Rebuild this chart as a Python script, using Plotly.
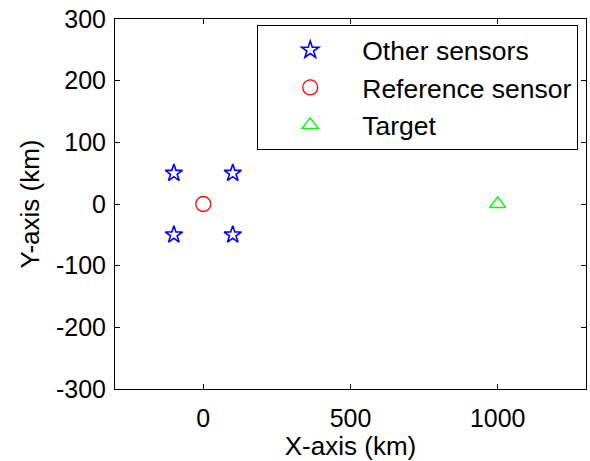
import plotly.graph_objects as go

other_x = [-100, 100, -100, 100]
other_y = [50, 50, -50, -50]
ref_x = [0]
ref_y = [0]
target_x = [1000]
target_y = [0]
x_ticks = [0, 500, 1000]
y_ticks = [-300, -200, -100, 0, 100, 200, 300]

FONT = "Liberation Sans, Arial, sans-serif"

fig = go.Figure()
fig.add_trace(go.Scatter(x=other_x, y=other_y, mode="markers", name="Other sensors",
                         legendgroup="a",
                         marker=dict(symbol="star-open", size=13, color="blue", line=dict(width=1.6, color="blue"))))
fig.add_trace(go.Scatter(x=ref_x, y=ref_y, mode="markers", name="Reference sensor",
                         legendgroup="b",
                         marker=dict(symbol="circle-open", size=15, color="red", line=dict(width=1.3, color="red"))))
fig.add_trace(go.Scatter(x=target_x, y=target_y, mode="markers", name="Target",
                         legendgroup="c",
                         marker=dict(symbol="triangle-up-open", size=14, color="#00ff00", line=dict(width=1.4, color="#00ff00"))))

axis_common = dict(showgrid=False, zeroline=False, showline=True, linecolor="black", linewidth=1,
                   mirror="allticks", ticks="inside", ticklen=5, tickcolor="black",
                   tickfont=dict(family=FONT, size=25, color="black"))

fig.update_layout(
    width=590, height=461,
    margin=dict(l=115, r=4, t=19, b=72),
    paper_bgcolor="white", plot_bgcolor="white",
    font=dict(family=FONT, color="black"),
    xaxis=dict(range=[-300, 1300], tickvals=x_ticks, ticktext=[str(v) for v in x_ticks],
               ticklabelstandoff=7,
               title=dict(text="X-axis (km)", font=dict(family=FONT, size=26), standoff=7),
               **axis_common),
    yaxis=dict(range=[-300, 300], tickvals=y_ticks, ticktext=[str(v) for v in y_ticks],
               ticklabelstandoff=3,
               title=dict(text="Y-axis (km)", font=dict(family=FONT, size=26), standoff=8),
               **axis_common),
    legend=dict(x=0.302, y=0.983, xanchor="left", yanchor="top",
                bordercolor="black", borderwidth=1, bgcolor="white",
                font=dict(family=FONT, size=26.5, color="black"),
                traceorder="grouped", tracegroupgap=0, itemwidth=94),
    showlegend=True,
)
fig.write_html("out.html")
